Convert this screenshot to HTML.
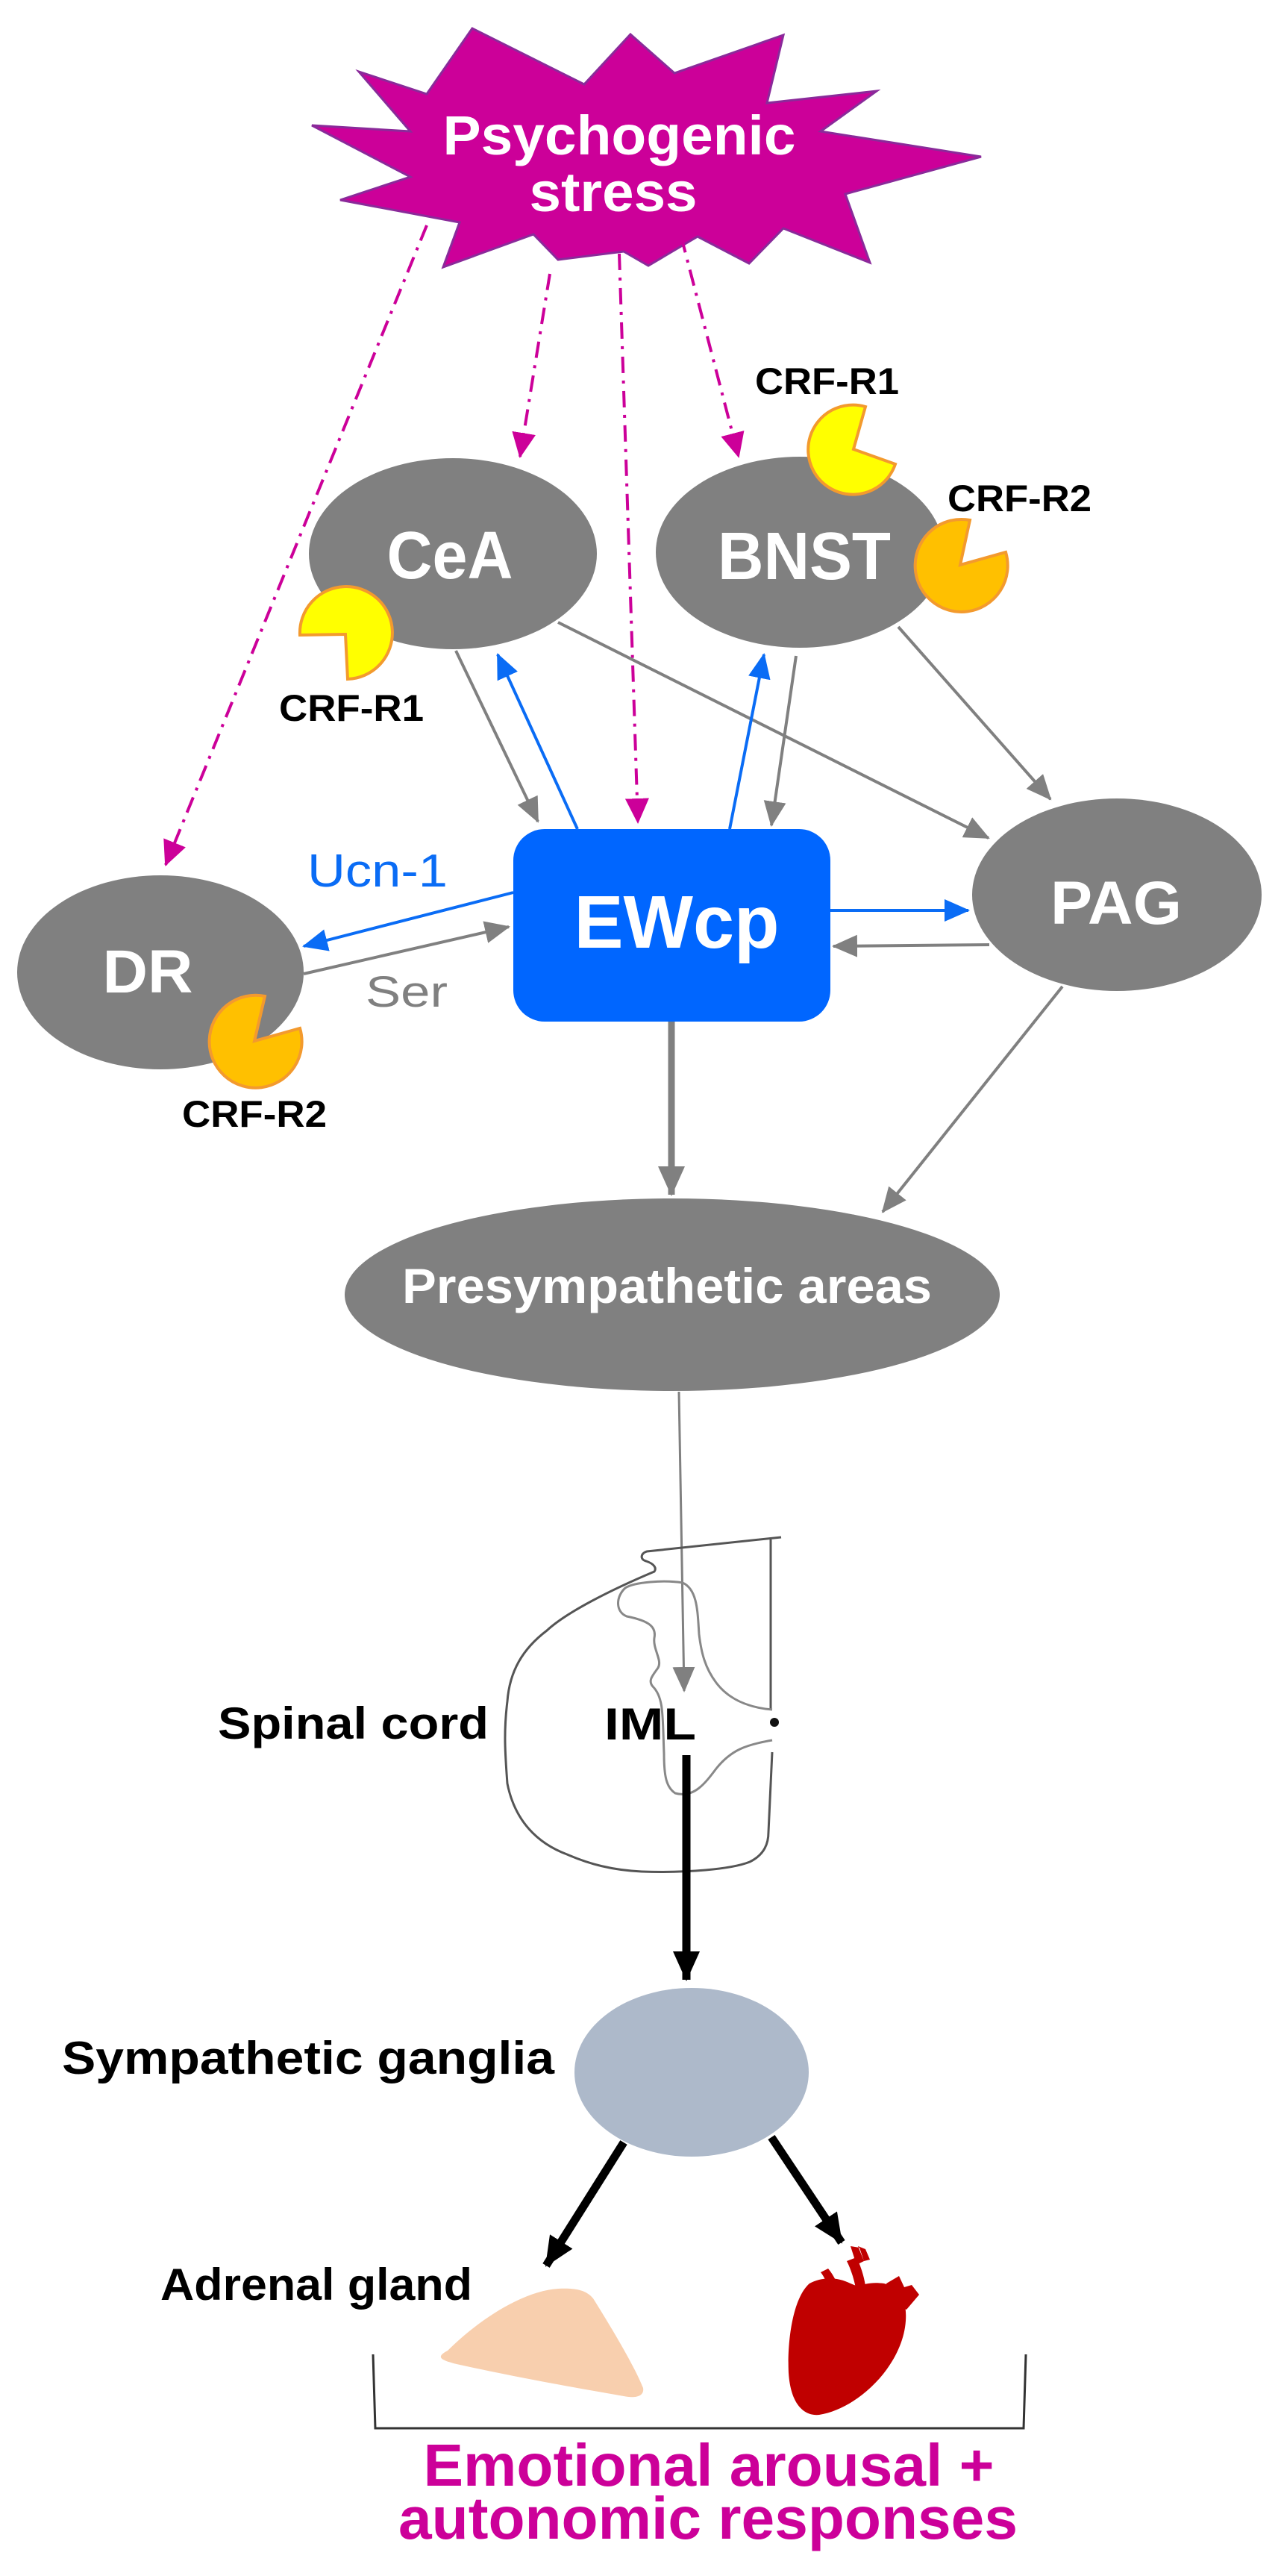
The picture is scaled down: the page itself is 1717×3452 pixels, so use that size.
<!DOCTYPE html>
<html><head><meta charset="utf-8"><style>
html,body{margin:0;padding:0;background:#fff;}
svg{display:block;}
text{font-family:"Liberation Sans",sans-serif;font-weight:bold;}
</style></head><body>
<svg width="1717" height="3452" viewBox="0 0 1717 3452" xmlns="http://www.w3.org/2000/svg">
<defs>
<marker id="ag" markerUnits="userSpaceOnUse" markerWidth="34" markerHeight="30" refX="32" refY="15" orient="auto"><path d="M0,0 L34,15 L0,30 Z" fill="#808080"/></marker>
<marker id="agb" markerUnits="userSpaceOnUse" markerWidth="40" markerHeight="36" refX="38" refY="18" orient="auto"><path d="M0,0 L40,18 L0,36 Z" fill="#808080"/></marker>
<marker id="ab" markerUnits="userSpaceOnUse" markerWidth="34" markerHeight="30" refX="32" refY="15" orient="auto"><path d="M0,0 L34,15 L0,30 Z" fill="#0a6cf5"/></marker>
<marker id="am" markerUnits="userSpaceOnUse" markerWidth="34" markerHeight="32" refX="32" refY="16" orient="auto"><path d="M0,0 L34,16 L0,32 Z" fill="#cc0099"/></marker>
<marker id="ak" markerUnits="userSpaceOnUse" markerWidth="40" markerHeight="36" refX="38" refY="18" orient="auto"><path d="M0,0 L40,18 L0,36 Z" fill="#000"/></marker>
</defs>

<!-- starburst -->
<polygon points="481,96 572,126 633,38 783,113 845,46 904,98 1050,47 1028,138 1175,122 1100,176 1315,210 1133,260 1166,352 1050,306 1004,353 935,317 869,356 836,337 748,348 715,314 594,358 616,298 456,268 550,237 418,168 550,176" fill="#cc0099" stroke="#8a2a9a" stroke-width="3"/>
<text x="830" y="207" font-size="74" fill="#fff" text-anchor="middle" textLength="473" lengthAdjust="spacingAndGlyphs">Psychogenic</text>
<text x="822" y="283" font-size="74" fill="#fff" text-anchor="middle" textLength="225" lengthAdjust="spacingAndGlyphs">stress</text>

<!-- magenta dash-dot arrows -->
<g stroke="#cc0099" stroke-width="4" stroke-dasharray="22 10 4 10" fill="none">
<line x1="572" y1="302" x2="222" y2="1159" marker-end="url(#am)"/>
<line x1="737" y1="367" x2="697" y2="612" marker-end="url(#am)"/>
<line x1="830" y1="340" x2="855" y2="1102" marker-end="url(#am)"/>
<line x1="913" y1="317" x2="990" y2="612" marker-end="url(#am)"/>
</g>

<!-- nodes -->
<ellipse cx="607" cy="742" rx="193" ry="128" fill="#808080"/>
<ellipse cx="1072" cy="740" rx="193" ry="128" fill="#808080"/>
<ellipse cx="215" cy="1303" rx="192" ry="130" fill="#808080"/>
<ellipse cx="1497" cy="1199" rx="194" ry="129" fill="#808080"/>
<rect x="688" y="1111" width="425" height="258" rx="42" fill="#0066ff"/>
<ellipse cx="901" cy="1735" rx="439" ry="129" fill="#808080"/>

<text x="603" y="775" font-size="90" fill="#fff" text-anchor="middle" textLength="169" lengthAdjust="spacingAndGlyphs">CeA</text>
<text x="1078" y="776" font-size="90" fill="#fff" text-anchor="middle" textLength="232" lengthAdjust="spacingAndGlyphs">BNST</text>
<text x="198" y="1330" font-size="82" fill="#fff" text-anchor="middle" textLength="121" lengthAdjust="spacingAndGlyphs">DR</text>
<text x="1496" y="1238" font-size="82" fill="#fff" text-anchor="middle" textLength="176" lengthAdjust="spacingAndGlyphs">PAG</text>
<text x="907" y="1270" font-size="100" fill="#fff" text-anchor="middle" textLength="275" lengthAdjust="spacingAndGlyphs">EWcp</text>
<text x="894" y="1746" font-size="66" fill="#fff" text-anchor="middle" textLength="710" lengthAdjust="spacingAndGlyphs">Presympathetic areas</text>

<!-- receptors -->
<path d="M1144,602 L1160,545 A60,60 0 1 0 1200,622 Z" fill="#ffff00" stroke="#f39a2e" stroke-width="4"/>
<path d="M1287,757 L1300,697 A62,62 0 1 0 1348,740 Z" fill="#ffc000" stroke="#f39a2e" stroke-width="4"/>
<path d="M341,1395 L355,1335 A62,62 0 1 0 402,1378 Z" fill="#ffc000" stroke="#f39a2e" stroke-width="4"/>
<path d="M463,850 L402,851 A62,62 0 1 1 466,910 Z" fill="#ffff00" stroke="#f39a2e" stroke-width="4"/>

<text x="1012" y="528" font-size="50" fill="#000" textLength="193" lengthAdjust="spacingAndGlyphs">CRF-R1</text>
<text x="1270" y="685" font-size="50" fill="#000" textLength="193" lengthAdjust="spacingAndGlyphs">CRF-R2</text>
<text x="374" y="966" font-size="50" fill="#000" textLength="194" lengthAdjust="spacingAndGlyphs">CRF-R1</text>
<text x="244" y="1510" font-size="50" fill="#000" textLength="194" lengthAdjust="spacingAndGlyphs">CRF-R2</text>

<!-- gray connectors -->
<g stroke="#808080" stroke-width="4" fill="none">
<line x1="611" y1="872" x2="721" y2="1101" marker-end="url(#ag)"/>
<line x1="1067" y1="879" x2="1034" y2="1106" marker-end="url(#ag)"/>
<line x1="748" y1="834" x2="1325" y2="1123" marker-end="url(#ag)"/>
<line x1="1204" y1="840" x2="1408" y2="1071" marker-end="url(#ag)"/>
<line x1="407" y1="1305" x2="682" y2="1242" marker-end="url(#ag)"/>
<line x1="1326" y1="1266" x2="1117" y2="1268" marker-end="url(#ag)"/>
<line x1="1424" y1="1322" x2="1183" y2="1624" marker-end="url(#ag)"/>
<line x1="900" y1="1369" x2="900" y2="1601" stroke-width="9" marker-end="url(#agb)"/>
<line x1="910" y1="1865" x2="917" y2="2266" stroke-width="3" marker-end="url(#ag)"/>
</g>
<!-- blue connectors -->
<g stroke="#0a6cf5" stroke-width="4" fill="none">
<line x1="774" y1="1111" x2="667" y2="877" marker-end="url(#ab)"/>
<line x1="978" y1="1111" x2="1024" y2="877" marker-end="url(#ab)"/>
<line x1="688" y1="1196" x2="407" y2="1268" marker-end="url(#ab)"/>
<line x1="1113" y1="1220" x2="1298" y2="1220" marker-end="url(#ab)"/>
</g>
<text x="412" y="1188" font-size="62" fill="#0a6cf5" style="font-weight:normal" textLength="188" lengthAdjust="spacingAndGlyphs">Ucn-1</text>
<text x="490" y="1349" font-size="58" fill="#808080" style="font-weight:normal" textLength="110" lengthAdjust="spacingAndGlyphs">Ser</text>

<!-- spinal cord -->
<path d="M1047,2060 L867,2079 C858,2082 858,2090 866,2092 C878,2096 880,2102 877,2106 C820,2130 760,2160 733,2185 C700,2210 683,2240 680,2280 C675,2320 677,2350 680,2390 C690,2440 720,2470 760,2485 C790,2498 820,2506 860,2508 C920,2510 980,2505 1005,2495 C1025,2485 1030,2470 1030,2455 L1035,2348" fill="none" stroke="#555" stroke-width="3"/>
<path d="M1033,2063 L1033,2291" stroke="#555" stroke-width="3"/>
<path d="M1035,2291 C1000,2288 975,2275 960,2255 C945,2235 940,2215 937,2190 C935,2160 935,2130 915,2121 C890,2117 850,2120 838,2128 C825,2140 825,2160 840,2166 C870,2172 880,2180 877,2195 C875,2210 888,2225 882,2235 C875,2245 868,2252 875,2260 C890,2275 888,2300 890,2350 C890,2380 893,2395 905,2403 C930,2410 945,2390 960,2370 C980,2345 1000,2338 1035,2332" fill="none" stroke="#888" stroke-width="3"/>
<circle cx="1038" cy="2308" r="6" fill="#111"/>
<text x="810" y="2331" font-size="60" fill="#000" textLength="123" lengthAdjust="spacingAndGlyphs">IML</text>
<text x="292" y="2330" font-size="60" fill="#000" textLength="363" lengthAdjust="spacingAndGlyphs">Spinal cord</text>

<!-- black arrows -->
<g stroke="#000" stroke-width="11" fill="none">
<line x1="920" y1="2352" x2="920" y2="2653" marker-end="url(#ak)"/>
<line x1="836" y1="2871" x2="732" y2="3036" marker-end="url(#ak)"/>
<line x1="1034" y1="2864" x2="1128" y2="3005" marker-end="url(#ak)"/>
</g>
<ellipse cx="927" cy="2777" rx="157" ry="113" fill="#adb9ca"/>
<text x="83" y="2779" font-size="62" fill="#000" textLength="660" lengthAdjust="spacingAndGlyphs">Sympathetic ganglia</text>
<text x="215" y="3082" font-size="60" fill="#000" textLength="418" lengthAdjust="spacingAndGlyphs">Adrenal gland</text>

<!-- adrenal -->
<path d="M600,3150 C640,3110 700,3070 748,3067 C770,3066 785,3068 795,3080 C820,3120 850,3170 862,3200 C864,3212 850,3214 836,3211 C760,3198 680,3183 612,3168 C588,3162 585,3158 600,3150 Z" fill="#f8cfae"/>
<!-- heart -->
<g fill="#c00000">
<path d="M1085,3060 C1062,3080 1055,3140 1057,3180 C1060,3225 1080,3238 1098,3236 C1150,3228 1210,3170 1214,3110 C1216,3080 1205,3065 1185,3060 C1170,3058 1160,3060 1150,3064 L1140,3060 C1120,3050 1100,3052 1085,3060 Z"/>
<path d="M1100,3045 C1108,3055 1115,3075 1118,3095 L1130,3092 C1128,3070 1120,3052 1110,3040 Z"/>
<path d="M1135,3030 C1145,3050 1150,3075 1150,3095 L1162,3095 C1163,3070 1158,3045 1148,3025 Z"/>
<path d="M1140,3010 L1148,3035 L1158,3030 L1152,3012 Z M1150,3010 L1160,3014 L1166,3028 L1158,3030 Z"/>
<path d="M1188,3060 L1205,3050 L1212,3065 L1222,3062 L1232,3075 L1215,3095 L1195,3085 Z"/>
</g>
<!-- bracket -->
<path d="M500,3155 L503,3254 L1372,3254 L1375,3155" fill="none" stroke="#333" stroke-width="3"/>
<text x="950" y="3331" font-size="80" fill="#cc0099" text-anchor="middle" textLength="765" lengthAdjust="spacingAndGlyphs">Emotional arousal +</text>
<text x="949" y="3402" font-size="80" fill="#cc0099" text-anchor="middle" textLength="830" lengthAdjust="spacingAndGlyphs">autonomic responses</text>
</svg>
</body></html>
